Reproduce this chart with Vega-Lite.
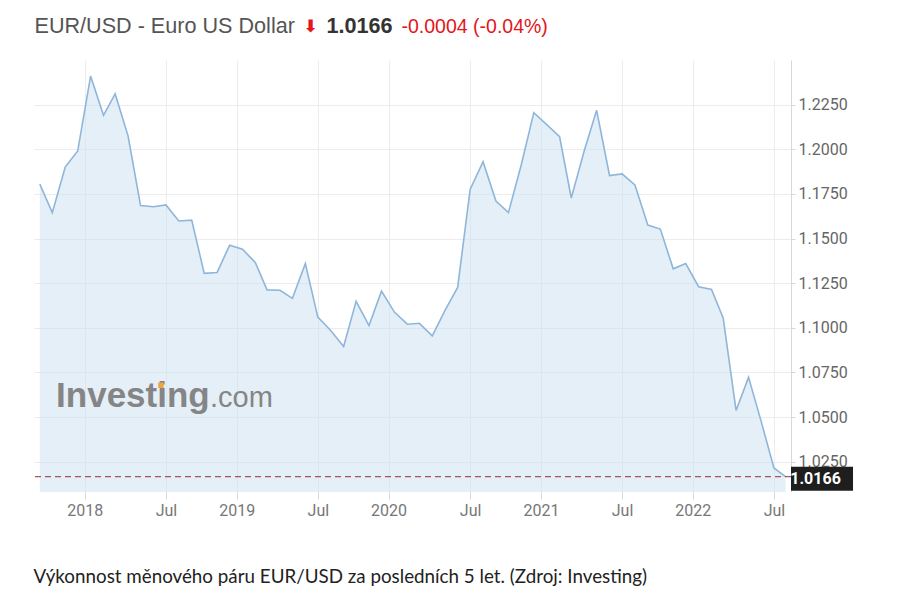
{
  "$schema": "https://vega.github.io/schema/vega-lite/v6.json",
  "background": "white",
  "padding": {"left": 33, "top": 15, "right": 0, "bottom": 0},
  "config": {"view": {"stroke": null}, "font": "Roboto"},
  "title": {
    "text": "Výkonnost měnového páru EUR/USD za posledních 5 let. (Zdroj: Investing)",
    "orient": "bottom", "anchor": "start", "font": "Lato", "fontSize": 18.8,
    "fontWeight": "normal", "color": "#222222", "offset": 50
  },
  "spacing": 21,
  "vconcat": [
    {
      "spacing": 8,
      "hconcat": [
        {
          "data": {"values": [{"t": "EUR/USD - Euro US Dollar"}]},
          "width": 1, "height": 24,
          "mark": {"type": "text", "align": "left", "baseline": "middle", "font": "Liberation Sans", "fontSize": 21.6, "color": "#555555"},
          "encoding": {"text": {"field": "t"}}
        },
        {
          "data": {"values": [{"t": "⬇"}]},
          "width": 1, "height": 24,
          "mark": {"type": "text", "align": "left", "baseline": "middle", "font": "DejaVu Sans", "fontSize": 17, "fontWeight": "bold", "color": "#e3161d"},
          "encoding": {"text": {"field": "t"}}
        },
        {
          "data": {"values": [{"t": "1.0166"}]},
          "width": 1, "height": 24,
          "mark": {"type": "text", "align": "left", "baseline": "middle", "font": "Liberation Sans", "fontSize": 21.6, "fontWeight": "bold", "color": "#333333"},
          "encoding": {"text": {"field": "t"}}
        },
        {
          "data": {"values": [{"t": "-0.0004 (-0.04%)"}]},
          "width": 1, "height": 24,
          "mark": {"type": "text", "align": "left", "baseline": "middle", "font": "Liberation Sans", "fontSize": 19.5, "color": "#e3161d"},
          "encoding": {"text": {"field": "t"}}
        }
      ]
    },
    {
      "width": 757,
      "height": 432,
      "data": {"values": [
        {"date": "2017-09-15T00:00", "close": 1.1805},
        {"date": "2017-10-15T00:00", "close": 1.1645},
        {"date": "2017-11-15T00:00", "close": 1.1900},
        {"date": "2017-12-15T00:00", "close": 1.1990},
        {"date": "2018-01-15T00:00", "close": 1.2410},
        {"date": "2018-02-15T00:00", "close": 1.2190},
        {"date": "2018-03-15T00:00", "close": 1.2310},
        {"date": "2018-04-15T00:00", "close": 1.2075},
        {"date": "2018-05-15T00:00", "close": 1.1685},
        {"date": "2018-06-15T00:00", "close": 1.1678},
        {"date": "2018-07-15T00:00", "close": 1.1688},
        {"date": "2018-08-15T00:00", "close": 1.1598},
        {"date": "2018-09-15T00:00", "close": 1.1603},
        {"date": "2018-10-15T00:00", "close": 1.1305},
        {"date": "2018-11-15T00:00", "close": 1.1310},
        {"date": "2018-12-15T00:00", "close": 1.1462},
        {"date": "2019-01-15T00:00", "close": 1.1440},
        {"date": "2019-02-15T00:00", "close": 1.1365},
        {"date": "2019-03-15T00:00", "close": 1.1212},
        {"date": "2019-04-15T00:00", "close": 1.1210},
        {"date": "2019-05-15T00:00", "close": 1.1165},
        {"date": "2019-06-15T00:00", "close": 1.1360},
        {"date": "2019-07-15T00:00", "close": 1.1060},
        {"date": "2019-08-15T00:00", "close": 1.0985},
        {"date": "2019-09-15T00:00", "close": 1.0895},
        {"date": "2019-10-15T00:00", "close": 1.1148},
        {"date": "2019-11-15T00:00", "close": 1.1012},
        {"date": "2019-12-15T00:00", "close": 1.1205},
        {"date": "2020-01-15T00:00", "close": 1.1088},
        {"date": "2020-02-15T00:00", "close": 1.1020},
        {"date": "2020-03-15T00:00", "close": 1.1025},
        {"date": "2020-04-15T00:00", "close": 1.0955},
        {"date": "2020-05-15T00:00", "close": 1.1095},
        {"date": "2020-06-15T00:00", "close": 1.1226},
        {"date": "2020-07-15T00:00", "close": 1.1775},
        {"date": "2020-08-15T00:00", "close": 1.1930},
        {"date": "2020-09-15T00:00", "close": 1.1710},
        {"date": "2020-10-15T00:00", "close": 1.1645},
        {"date": "2020-11-15T00:00", "close": 1.1915},
        {"date": "2020-12-15T00:00", "close": 1.2205},
        {"date": "2021-01-15T00:00", "close": 1.2138},
        {"date": "2021-02-15T00:00", "close": 1.2070},
        {"date": "2021-03-15T00:00", "close": 1.1727},
        {"date": "2021-04-15T00:00", "close": 1.1990},
        {"date": "2021-05-15T00:00", "close": 1.2218},
        {"date": "2021-06-15T00:00", "close": 1.1853},
        {"date": "2021-07-15T00:00", "close": 1.1862},
        {"date": "2021-08-15T00:00", "close": 1.1800},
        {"date": "2021-09-15T00:00", "close": 1.1575},
        {"date": "2021-10-15T00:00", "close": 1.1553},
        {"date": "2021-11-15T00:00", "close": 1.1330},
        {"date": "2021-12-15T00:00", "close": 1.1360},
        {"date": "2022-01-15T00:00", "close": 1.1230},
        {"date": "2022-02-15T00:00", "close": 1.1215},
        {"date": "2022-03-15T00:00", "close": 1.1055},
        {"date": "2022-04-15T00:00", "close": 1.0537},
        {"date": "2022-05-15T00:00", "close": 1.0722},
        {"date": "2022-06-15T00:00", "close": 1.0470},
        {"date": "2022-07-15T00:00", "close": 1.0215},
        {"date": "2022-08-12T00:00", "close": 1.0166}
      ]},
      "layer": [
        {
          "mark": {"type": "area", "color": "#d0e1f0", "opacity": 0.55, "clip": true},
          "encoding": {
            "x": {
              "field": "date", "type": "temporal",
              "scale": {"domain": [{"year": 2017, "month": 9, "date": 1}, {"year": 2022, "month": 8, "date": 25}]},
              "axis": {
                "title": null, "orient": "bottom",
                "values": [
                  {"year": 2018, "month": 1, "date": 1}, {"year": 2018, "month": 7, "date": 15},
                  {"year": 2019, "month": 1, "date": 1}, {"year": 2019, "month": 7, "date": 15},
                  {"year": 2020, "month": 1, "date": 1}, {"year": 2020, "month": 7, "date": 15},
                  {"year": 2021, "month": 1, "date": 1}, {"year": 2021, "month": 7, "date": 15},
                  {"year": 2022, "month": 1, "date": 1}, {"year": 2022, "month": 7, "date": 15}
                ],
                "labelExpr": "month(datum.value) == 0 ? timeFormat(datum.value, '%Y') : timeFormat(datum.value, '%b')",
                "labelFont": "Roboto", "labelFontSize": 16, "labelColor": "#777777",
                "labelPadding": 3, "labelOverlap": false, "labelFlush": false,
                "tickSize": 7, "tickColor": "#d8d8d8", "domain": false,
                "grid": true, "gridColor": "#ececec"
              }
            },
            "y": {
              "field": "close", "type": "quantitative",
              "scale": {"domain": [1.008, 1.25], "zero": false, "nice": false},
              "axis": {
                "title": null, "orient": "right",
                "values": [1.025, 1.05, 1.075, 1.1, 1.125, 1.15, 1.175, 1.2, 1.225],
                "format": ".4f",
                "labelFont": "Roboto", "labelFontSize": 16, "labelColor": "#666666",
                "labelPadding": 3, "tickSize": 4, "tickColor": "#d8d8d8",
                "domain": true, "domainColor": "#d8d8d8",
                "grid": true, "gridColor": "#ececec"
              }
            }
          }
        },
        {
          "data": {"values": [{}]},
          "mark": {"type": "text", "text": "Investing", "align": "left", "baseline": "alphabetic", "font": "Liberation Sans", "fontWeight": "bold", "fontSize": 35, "color": "#858585"},
          "encoding": {
            "x": {"datum": {"year": 2017, "month": 10, "date": 24}},
            "y": {"datum": 1.0556}
          }
        },
        {
          "data": {"values": [{}]},
          "mark": {"type": "text", "text": ".com", "align": "left", "baseline": "alphabetic", "font": "Liberation Sans", "fontSize": 29, "color": "#858585"},
          "encoding": {
            "x": {"datum": {"year": 2018, "month": 10, "date": 29}},
            "y": {"datum": 1.0556}
          }
        },
        {
          "data": {"values": [{}]},
          "mark": {"type": "point", "shape": "square", "filled": true, "size": 30, "color": "#f2a33a", "opacity": 1},
          "encoding": {
            "x": {"datum": {"year": 2018, "month": 7, "date": 3}},
            "y": {"datum": 1.0678}
          }
        },
        {
          "mark": {"type": "line", "color": "#8fb6da", "strokeWidth": 1.6},
          "encoding": {
            "x": {"field": "date", "type": "temporal"},
            "y": {"field": "close", "type": "quantitative"}
          }
        },
        {
          "transform": [{"filter": "year(datum.date) == 2022 && month(datum.date) == 7"}],
          "mark": {"type": "rule", "color": "#9b3b3b", "strokeDash": [6, 4], "strokeWidth": 1.2, "opacity": 0.85},
          "encoding": {"y": {"field": "close", "type": "quantitative"}}
        },
        {
          "data": {"values": [{}]},
          "mark": {"type": "rect", "color": "#1e1e1e", "clip": false},
          "encoding": {
            "x": {"datum": {"year": 2022, "month": 8, "date": 25}},
            "x2": {"datum": {"year": 2023, "month": 1, "date": 21}},
            "y": {"datum": 1.0221},
            "y2": {"datum": 1.0087}
          }
        },
        {
          "transform": [{"filter": "year(datum.date) == 2022 && month(datum.date) == 7"}],
          "mark": {"type": "text", "align": "center", "baseline": "middle", "font": "Roboto", "fontWeight": "bold", "fontSize": 16, "color": "#ffffff", "dy": 2},
          "encoding": {
            "x": {"datum": {"year": 2022, "month": 10, "date": 23}},
            "y": {"field": "close", "type": "quantitative"},
            "text": {"field": "close", "type": "quantitative", "format": ".4f"}
          }
        }
      ]
    }
  ]
}
